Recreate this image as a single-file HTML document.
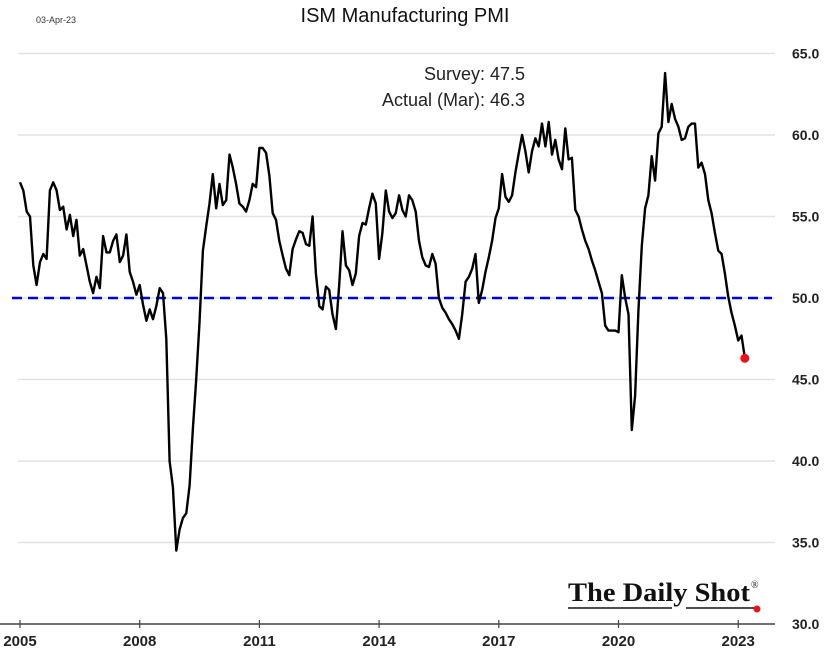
<!DOCTYPE html>
<html><head><meta charset="utf-8"><style>
body{margin:0;background:#fff;}
svg{display:block;font-family:"Liberation Sans",sans-serif;}
</style></head><body>
<svg id="chart" width="840" height="662" viewBox="0 0 840 662" xmlns="http://www.w3.org/2000/svg">
<g id="grid"></g>
<g id="yticks"></g>
<g id="xticks"></g>
<text x="36" y="23" font-size="9" fill="#333">03-Apr-23</text>
<text x="405" y="22" font-size="20" text-anchor="middle" fill="#111">ISM Manufacturing PMI</text>
<text x="525" y="80" font-size="18" text-anchor="end" fill="#222">Survey:  47.5</text>
<text x="525" y="106" font-size="18" text-anchor="end" fill="#222">Actual (Mar):  46.3</text>
<line id="ref" x1="12" x2="772" stroke="#0000dd" stroke-width="2.5" stroke-dasharray="10,6"/>
<path id="series" fill="none" stroke="#000" stroke-width="2.4" stroke-linejoin="round"/>
<circle id="last" r="4.5" fill="#e8141c"/>
<g>
<text x="568" y="601" font-family="'Liberation Serif',serif" font-size="26" font-weight="bold" fill="#111" textLength="182" lengthAdjust="spacingAndGlyphs">The Daily Shot</text>
<text x="751" y="588" font-family="'Liberation Serif',serif" font-size="10" fill="#111">®</text>
<line x1="568" y1="608" x2="672" y2="608" stroke="#111" stroke-width="1.5"/>
<line x1="686" y1="608" x2="756" y2="608" stroke="#111" stroke-width="1.5"/>
<circle cx="757" cy="609" r="3.5" fill="#e8141c"/>
</g>
</svg>
<script>
const yTicks=[30,35,40,45,50,55,60,65];
const xTickYears=[2005,2008,2011,2014,2017,2020,2023];
const startYear=2005;
const pmi2005=[57.1,56.6,55.3,55.0,52.0,50.8,52.2,52.7,52.4,56.6,57.1,56.6];
const pmi2006=[55.4,55.6,54.2,55.1,53.8,54.8,52.6,53.0,52.0,51.0,50.3,51.3];
const pmi2007=[50.6,53.8,52.8,52.8,53.5,53.9,52.2,52.6,53.9,51.6,51.0,50.2];
const pmi2008=[50.8,49.6,48.6,49.3,48.7,49.5,50.6,50.3,47.5,40.0,38.4,34.5];
const pmi2009=[35.8,36.5,36.8,38.5,42.0,45.0,48.5,52.9,54.4,55.8,57.6,55.5];
const pmi2010=[57.0,55.7,56.0,58.8,58.0,57.0,55.8,55.6,55.3,56.0,57.0,56.8];
const pmi2011=[59.2,59.2,58.9,57.5,55.2,54.8,53.5,52.6,51.8,51.4,53.0,53.6];
const pmi2012=[54.1,54.0,53.3,53.2,55.0,51.5,49.5,49.3,50.7,50.5,49.0,48.1];
const pmi2013=[50.8,54.1,52.0,51.7,50.8,51.5,53.8,54.6,54.5,55.5,56.4,55.8];
const pmi2014=[52.4,54.0,56.6,55.3,54.9,55.2,56.3,55.4,55.0,56.3,56.0,55.3];
const pmi2015=[53.5,52.5,52.0,51.9,52.7,52.1,50.0,49.4,49.1,48.7,48.4,48.0];
const pmi2016=[47.5,49.0,51.0,51.3,51.8,52.7,49.7,50.5,51.6,52.5,53.5,54.9];
const pmi2017=[55.5,57.6,56.2,55.9,56.3,57.7,58.9,60.0,59.0,57.7,59.0,59.8];
const pmi2018=[59.3,60.7,59.3,60.8,58.8,59.7,58.5,57.9,60.4,58.5,58.6,55.4];
const pmi2019=[55.0,54.2,53.5,53.0,52.3,51.7,51.0,50.3,48.3,48.0,48.0,48.0];
const pmi2020=[47.9,51.4,50.0,49.0,41.9,44.0,49.2,53.2,55.5,56.3,58.7,57.2];
const pmi2021=[60.1,60.5,63.8,60.8,61.9,61.0,60.5,59.7,59.8,60.5,60.7,60.7];
const pmi2022=[58.0,58.3,57.6,56.0,55.2,54.0,52.9,52.7,51.5,50.1,49.1,48.3];
const pmi2023=[47.4,47.7,46.3];
const values=[].concat(pmi2005,pmi2006,pmi2007,pmi2008,pmi2009,pmi2010,pmi2011,pmi2012,pmi2013,pmi2014,pmi2015,pmi2016,pmi2017,pmi2018,pmi2019,pmi2020,pmi2021,pmi2022,pmi2023);
const refValue=50;

const NS="http://www.w3.org/2000/svg";
const xOf=t=>20+(t-startYear)*39.9;
const yOf=v=>624-(v-30)*16.3;
function mk(tag,attrs,parent){const e=document.createElementNS(NS,tag);for(const k in attrs)e.setAttribute(k,attrs[k]);parent.appendChild(e);return e;}
const grid=document.getElementById('grid'),yt=document.getElementById('yticks'),xt=document.getElementById('xticks');
yTicks.forEach(v=>{
  if(v>30){const l=mk('line',{x1:18,x2:775,y1:yOf(v),y2:yOf(v),stroke:'#e2e2e2','stroke-width':1.5},grid);
  
  }
  const t=mk('text',{x:792,y:yOf(v)+5,'font-size':14,'font-weight':'bold',fill:'#222'},yt);
  t.textContent=v.toFixed(1);
  
  
});
const ax=mk('line',{x1:0,x2:775,y1:624,y2:624,stroke:'#444','stroke-width':1.5},xt);


xTickYears.forEach(y=>{
  const x=xOf(y);
  const tk=mk('line',{x1:x,x2:x,y1:620,y2:628,stroke:'#444','stroke-width':1.2},xt);
  
  
  const t=mk('text',{x:x,y:646,'font-size':15,'font-weight':'bold','text-anchor':'middle',fill:'#222'},xt);
  t.textContent=y;
  
  
});
const ref=document.getElementById('ref');ref.setAttribute('y1',yOf(refValue));ref.setAttribute('y2',yOf(refValue));
let d='';
values.forEach((v,i)=>{const x=xOf(startYear+i/12),y=yOf(v);d+=(i?'L':'M')+x.toFixed(1)+','+y.toFixed(1);});
document.getElementById('series').setAttribute('d',d);
const li=values.length-1,last=document.getElementById('last');
last.setAttribute('cx',xOf(startYear+li/12));last.setAttribute('cy',yOf(values[li]));
</script>
</body></html>
